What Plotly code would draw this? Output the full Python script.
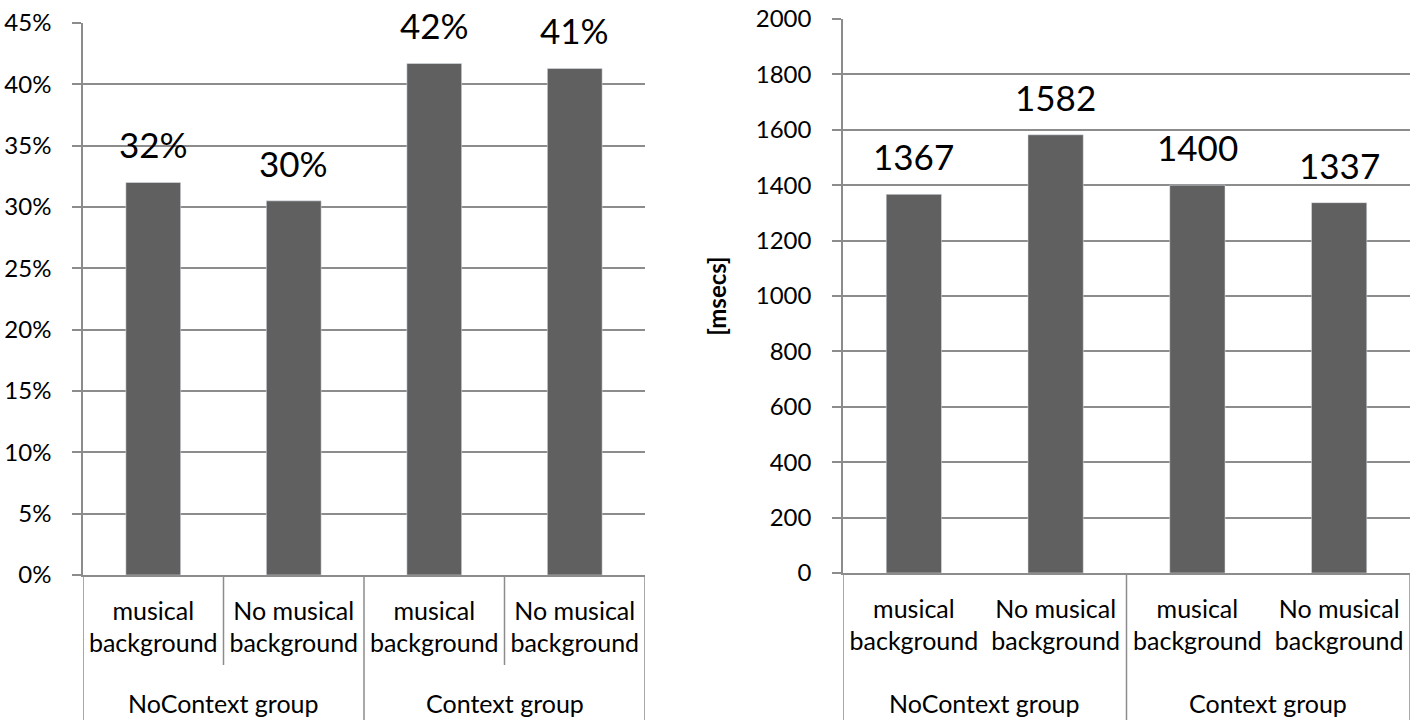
import plotly.graph_objects as go

# categories
groups = ["NoContext group", "NoContext group", "Context group", "Context group"]
subcats = ["musical<br>background", "No musical<br>background",
           "musical<br>background", "No musical<br>background"]
group_names = ["NoContext group", "Context group"]

# left chart: share (fraction), label as shown on the chart
pct_values = [0.320, 0.305, 0.417, 0.413]
pct_labels = ["32%", "30%", "42%", "41%"]

# right chart: response time in msecs
ms_values = [1367, 1582, 1400, 1337]
ms_labels = ["1367", "1582", "1400", "1337"]

FONT = "Lato, Open Sans, sans-serif"
GRID = "#8c8c8c"
BAR = "#606060"
xs = list(range(len(subcats)))

fig = go.Figure()
fig.add_trace(go.Bar(x=xs, y=pct_values, marker_color=BAR, width=0.39,
                     xaxis="x", yaxis="y", showlegend=False))
fig.add_trace(go.Bar(x=xs, y=ms_values, marker_color=BAR, width=0.39,
                     xaxis="x2", yaxis="y2", showlegend=False))

W, H = 1417, 728
dom1 = [83 / W, 645 / W]
dom2 = [843 / W, 1410 / W]
ydom = [1 - 575 / H, 1 - 23 / H]
ydom2 = [1 - 573 / H, 1 - 19 / H]

xcommon = dict(tickvals=xs, ticktext=subcats, range=[-0.5, 3.5], automargin=False,
               showgrid=False, showline=True, linecolor=GRID, linewidth=1.5,
               ticks="", ticklabelstandoff=13, tickangle=0,
               tickfont=dict(family=FONT, size=25, color="black"), zeroline=False)
ycommon = dict(showgrid=True, gridcolor=GRID, gridwidth=1.5, showline=True,
               linecolor=GRID, linewidth=1.5, ticks="outside", ticklen=9,
               tickcolor=GRID, tickwidth=1.5, zeroline=False, automargin=False,
               ticklabelstandoff=16,
               tickfont=dict(family=FONT, size=24, color="black"))

fig.update_layout(
    width=W, height=H, margin=dict(l=0, r=0, t=0, b=0),
    paper_bgcolor="white", plot_bgcolor="white",
    xaxis=dict(domain=dom1, anchor="y", **xcommon),
    yaxis=dict(domain=ydom, anchor="x", range=[0, 0.45], dtick=0.05,
               tickformat=".0%", **ycommon),
    xaxis2=dict(domain=dom2, anchor="y2", **xcommon),
    yaxis2=dict(domain=ydom2, anchor="x2", range=[0, 2000], dtick=200,
                title=dict(text="<b>[msecs]</b>", standoff=22,
                           font=dict(family=FONT, size=24, color="black")),
                **ycommon),
)

# value labels above bars
for xa, ya, vals, labs in [("x", "y", pct_values, pct_labels),
                           ("x2", "y2", ms_values, ms_labels)]:
    for i, (v, t) in enumerate(zip(vals, labs)):
        fig.add_annotation(x=i, y=v, xref=xa, yref=ya, text=t, showarrow=False,
                           yanchor="bottom", yshift=15,
                           font=dict(family=FONT, size=35, color="black"))

# group labels under the category labels
for xa in ["x", "x2"]:
    for g in group_names:
        idx = [i for i, gg in enumerate(groups) if gg == g]
        fig.add_annotation(x=sum(idx) / len(idx), y=1 - 703 / H, xref=xa, yref="paper",
                           text=g, showarrow=False, yanchor="middle",
                           font=dict(family=FONT, size=25, color="black"))

# dividers between groups (both charts) and between sub-categories (left chart)
for xa, ybot in [("x", 1 - 575 / H), ("x2", 1 - 573 / H)]:
    for b in [-0.5, 1.5, 3.5]:
        fig.add_shape(type="line", xref=xa, yref="paper", x0=b, x1=b,
                      y0=ybot, y1=1 - 720 / H, line=dict(color=GRID, width=1.5))
for b in [0.5, 2.5]:
    fig.add_shape(type="line", xref="x", yref="paper", x0=b, x1=b,
                  y0=1 - 575 / H, y1=1 - 665 / H, line=dict(color=GRID, width=1.5))

fig.write_html("out.html", config={"displayModeBar": False},
               post_script="document.body.style.margin='0';"
                           "document.body.style.overflow='hidden';")
